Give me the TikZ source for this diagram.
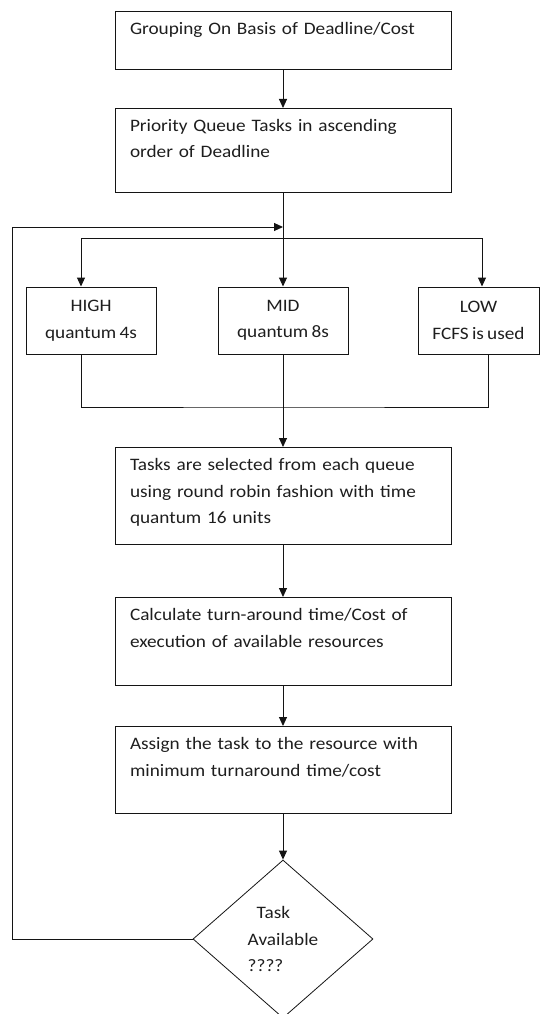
\documentclass[tikz,border=0pt]{standalone}
\usepackage{fontspec}
\setmainfont{Carlito}[FakeStretch=1.1, WordSpace=0.75]
\usetikzlibrary{arrows.meta, shapes.geometric}
\definecolor{flow-line}{RGB}{20,20,20}
\definecolor{flow-text}{RGB}{30,30,30}

\tikzset{
  stepbox/.style = {draw=flow-line, line width=1pt, text width=306pt, inner xsep=15pt,
                    inner ysep=0pt, align=left, text height=23pt, anchor=north},
  queuebox/.style = {draw=flow-line, line width=1pt, minimum height=67pt, align=center, inner sep=0pt},
  decision/.style = {draw=flow-line, line width=0.8pt, diamond, minimum width=180pt,
                     minimum height=158pt, inner sep=0pt, align=left},
  flowarrow/.style = {draw=flow-line, line width=1pt, -{Triangle[width=8pt,length=9pt]}},
  mergeline/.style = {draw=flow-line, line width=1pt}
}

\begin{document}
\begin{tikzpicture}[x=1pt, y=-1pt, font=\fontsize{17.5}{26.5}\selectfont, text=flow-text]
\useasboundingbox (0 ,0) rectangle (542 ,1014);
% steps of the scheduler
\node [stepbox, text depth=35pt] (group) at (283 ,11) {Grouping On Basis of Deadline/Cost};
\node [stepbox, text depth=61pt] (prio) at (283 ,108) {Priority Queue Tasks in ascending\\ order of Deadline};
\node [queuebox, minimum width=130pt] (high) at (91 ,320.5) {HIGH\\ quantum 4s};
\node [queuebox, minimum width=130pt] (mid) at (283 ,320.5) {MID\\ quantum 8s};
\node [queuebox, minimum width=121pt] (low) at (478.5 ,320.5) {LOW\\ FCFS is used};
\node [stepbox, text depth=74pt] (tasks) at (283 ,447) {Tasks are selected from each queue\\ using round robin fashion with time\\ quantum 16 units};
\node [stepbox, text depth=65pt] (calc) at (283 ,597) {Calculate turn-around time/Cost of\\ execution of available resources};
\node [stepbox, text depth=64pt] (assign) at (283 ,726) {Assign the task to the resource with\\ minimum turnaround time/cost};
\node [decision] (dec) at (283 ,939) {\hspace*{9pt}Task\\ Available\\ ????};
% bend points
\coordinate (loop) at (283 ,227);
\coordinate (split) at (283 ,238);
\coordinate (merge) at (283 ,407);
\coordinate (back) at (12 ,939);
% connectors
\draw [flowarrow] (group) -- (prio);
\draw [flowarrow] (prio) -- (mid);
\draw [flowarrow] (split) -| ([xshift=-10pt]high.north);
\draw [flowarrow] (split) -| ([xshift=3.5pt]low.north);
\draw [mergeline] ([xshift=-10pt]high.south) |- (merge) -| ([xshift=9.5pt]low.south);
\draw [flowarrow] (mid) -- (tasks);
\draw [flowarrow] (tasks) -- (calc);
\draw [flowarrow] (calc) -- (assign);
\draw [flowarrow] (assign) -- (dec);
\draw [flowarrow] (dec.west) -- (back) |- (loop);
\end{tikzpicture}
\end{document}
